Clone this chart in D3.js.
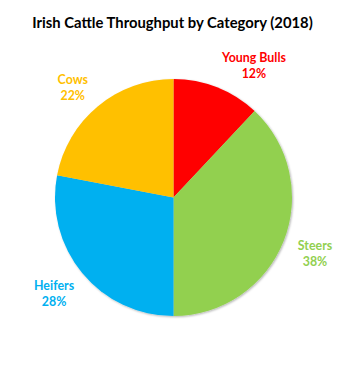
<!DOCTYPE html>
<html>
<head>
<meta charset="utf-8">
<script src="https://cdn.jsdelivr.net/npm/d3@7"></script>
<style>
  body { margin: 0; background: #fff; }
  text { font-family: Lato, "Open Sans", sans-serif; font-weight: bold; }
</style>
</head>
<body>
<svg id="chart"></svg>
<script>
var categories = ["Young Bulls", "Steers", "Heifers", "Cows"];
var shares = [12, 38, 28, 22];
var colours = ["#FF0000", "#92D050", "#00B0F0", "#FFC000"];

var width = 344, height = 384;
var cx = 173.5, cy = 197.5, radius = 118.5;

var svg = d3.select("#chart")
  .attr("width", width)
  .attr("height", height);

// soft shadow like the office chart
var defs = svg.append("defs");
defs.append("filter")
  .attr("id", "shadow")
  .attr("x", "-10%").attr("y", "-10%")
  .attr("width", "120%").attr("height", "120%")
  .append("feDropShadow")
    .attr("dx", 1).attr("dy", 1)
    .attr("stdDeviation", 1.2)
    .attr("flood-color", "#000")
    .attr("flood-opacity", 0.3);

svg.append("text")
  .attr("x", 172.5)
  .attr("y", 27.5)
  .attr("text-anchor", "middle")
  .style("font-size", "14.8px")
  .attr("fill", "#000")
  .text("Irish Cattle Throughput by Category (2018)");

var data = categories.map(function(c, i){
  return {name: c, value: shares[i], colour: colours[i]};
});

var pie = d3.pie()
  .value(function(d){ return d.value; })
  .sort(null);

var arc = d3.arc()
  .innerRadius(0)
  .outerRadius(radius);

var arcs = pie(data);

var g = svg.append("g")
  .attr("transform", "translate(" + cx + "," + cy + ")");

g.append("g")
  .attr("filter", "url(#shadow)")
  .selectAll("path")
  .data(arcs)
  .enter().append("path")
    .attr("d", arc)
    .attr("fill", function(d){ return d.data.colour; });

// labels outside end, box pushed away from pie
var labelR = 135;
var nudge = {"Young Bulls": [19, 8], "Cows": [-5, 6]};

var labels = g.selectAll(".lbl")
  .data(arcs)
  .enter().append("g")
    .attr("class", "lbl");

labels.each(function(d){
  var sel = d3.select(this);
  var t1 = sel.append("text")
    .attr("text-anchor", "middle")
    .style("font-size", "12.4px")
    .attr("fill", d.data.colour)
    .text(d.data.name);
  var t2 = sel.append("text")
    .attr("text-anchor", "middle")
    .style("font-size", "12.4px")
    .attr("fill", d.data.colour)
    .text(d.data.value + "%");
  var w = Math.max(t1.node().getComputedTextLength(), t2.node().getComputedTextLength());
  var h = 32;
  var a = (d.startAngle + d.endAngle) / 2;
  var s = Math.sin(a), c = -Math.cos(a);
  var n = nudge[d.data.name] || [0, 0];
  var x = labelR * s + s * w / 2 + n[0];
  var y = labelR * c + c * h / 2 + n[1];
  t1.attr("x", x).attr("y", y - 3.5);
  t2.attr("x", x).attr("y", y + 12.5);
});
</script>
</body>
</html>
